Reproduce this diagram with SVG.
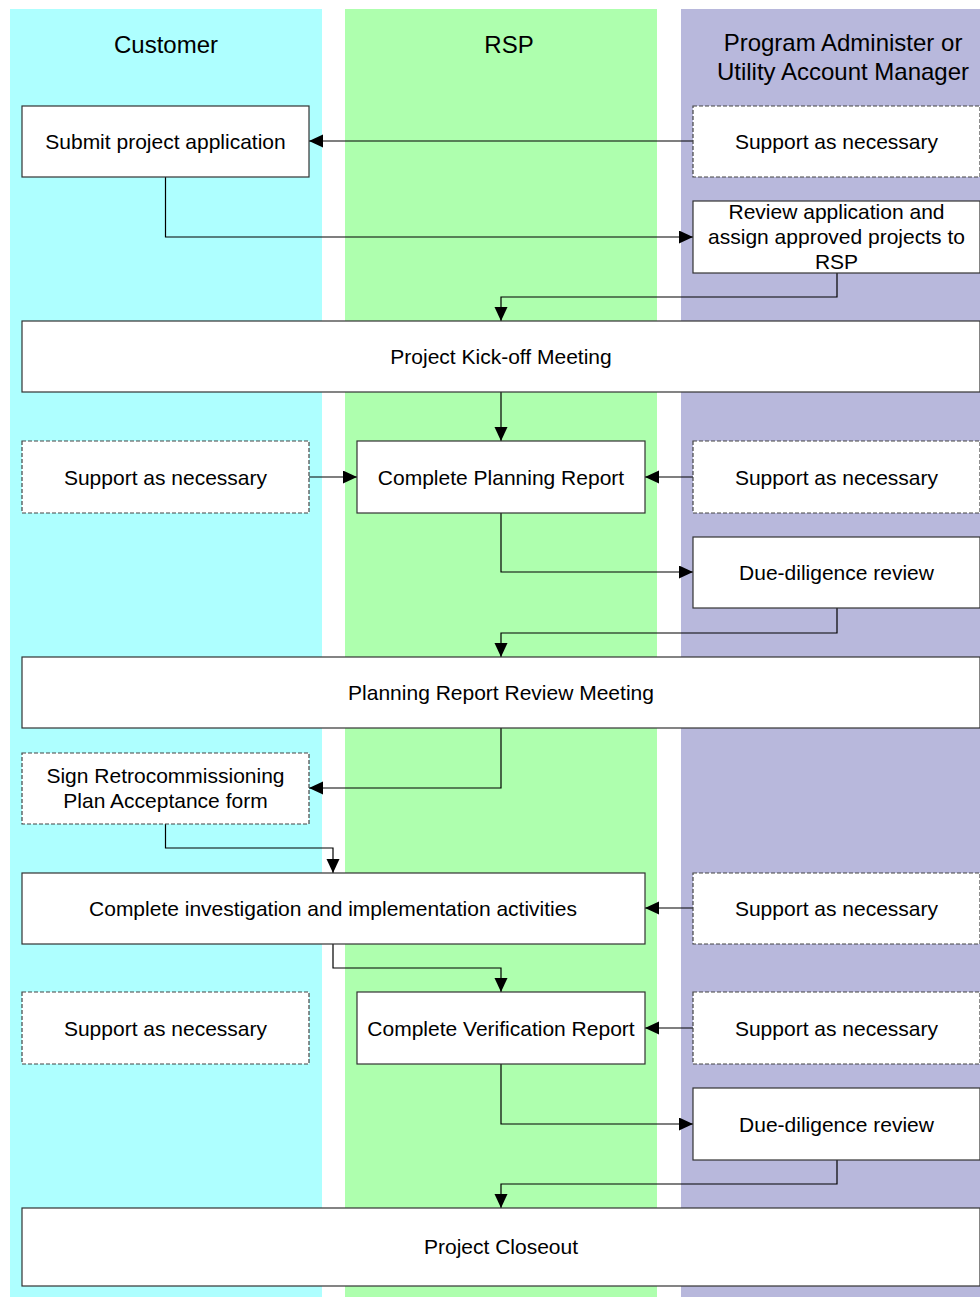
<svg xmlns="http://www.w3.org/2000/svg" width="980" height="1297" viewBox="0 0 980 1297">
<style>
.lane-h{font-family:"Liberation Sans",Arial,sans-serif;font-size:24px;fill:#000;text-anchor:middle}
.t{font-family:"Liberation Sans",Arial,sans-serif;font-size:21px;fill:#000;text-anchor:middle}
.box{fill:#fff;stroke:#333;stroke-width:1.2}
.dbox{fill:#fff;stroke:#444;stroke-width:1.2;stroke-dasharray:4 2}
.c{fill:none;stroke:#000;stroke-width:1.2;marker-end:url(#ah)}
</style>
<defs>
<marker id="ah" markerUnits="userSpaceOnUse" markerWidth="14" markerHeight="14" refX="14" refY="6.5" orient="auto">
<path d="M0,0 L14,6.5 L0,13 z" fill="#000"/>
</marker>
</defs>
<rect width="980" height="1297" fill="#fff"/>
<g id="lanes">
<rect x="10" y="9" width="312" height="1288" fill="#aeffff"/>
<rect x="345" y="9" width="312" height="1288" fill="#aeffae"/>
<rect x="681" y="9" width="299" height="1288" fill="#b8b8dc"/>
<text class="lane-h" x="166" y="53">Customer</text>
<text class="lane-h" x="509" y="53">RSP</text>
<text class="lane-h" x="843" y="51">Program Administer or</text>
<text class="lane-h" x="843" y="80">Utility Account Manager</text>
</g>
<g id="connectors">
<path class="c" d="M693,141 H309"/>
<path class="c" d="M165.5,177 V237 H693"/>
<path class="c" d="M837,273 V297 H501 V321"/>
<path class="c" d="M501,392 V441"/>
<path class="c" d="M309,477 H357"/>
<path class="c" d="M693,477 H645"/>
<path class="c" d="M501,513 V572 H693"/>
<path class="c" d="M837,608 V633 H501 V657"/>
<path class="c" d="M501,728 V788 H309"/>
<path class="c" d="M165.5,824 V848 H333 V873"/>
<path class="c" d="M693,908 H645"/>
<path class="c" d="M333,944 V968 H501 V992"/>
<path class="c" d="M693,1028 H645"/>
<path class="c" d="M501,1064 V1124 H693"/>
<path class="c" d="M837,1160 V1184 H501 V1208"/>
</g>
<g id="submit"><rect class="box" x="22" y="106" width="287" height="71"/><text class="t" x="165.5" y="149">Submit project application</text></g>
<g id="support-admin-1"><rect class="dbox" x="693" y="106" width="287" height="71"/><text class="t" x="836.5" y="149">Support as necessary</text></g>
<g id="review"><rect class="box" x="693" y="201" width="287" height="72"/><text class="t" x="836.5" y="219">Review application and</text><text class="t" x="836.5" y="244">assign approved projects to</text><text class="t" x="836.5" y="269">RSP</text></g>
<g id="kickoff"><rect class="box" x="22" y="321" width="958" height="71"/><text class="t" x="501" y="364">Project Kick-off Meeting</text></g>
<g id="support-cust-1"><rect class="dbox" x="22" y="441" width="287" height="72"/><text class="t" x="165.5" y="485">Support as necessary</text></g>
<g id="planning"><rect class="box" x="357" y="441" width="288" height="72"/><text class="t" x="501" y="485">Complete Planning Report</text></g>
<g id="support-admin-2"><rect class="dbox" x="693" y="441" width="287" height="72"/><text class="t" x="836.5" y="485">Support as necessary</text></g>
<g id="due1"><rect class="box" x="693" y="537" width="287" height="71"/><text class="t" x="836.5" y="580">Due-diligence review</text></g>
<g id="prrm"><rect class="box" x="22" y="657" width="958" height="71"/><text class="t" x="501" y="700">Planning Report Review Meeting</text></g>
<g id="sign"><rect class="dbox" x="22" y="753" width="287" height="71"/><text class="t" x="165.5" y="783">Sign Retrocommissioning</text><text class="t" x="165.5" y="808">Plan Acceptance form</text></g>
<g id="investigation"><rect class="box" x="22" y="873" width="623" height="71"/><text class="t" x="333" y="916">Complete investigation and implementation activities</text></g>
<g id="support-admin-3"><rect class="dbox" x="693" y="873" width="287" height="71"/><text class="t" x="836.5" y="916">Support as necessary</text></g>
<g id="support-cust-2"><rect class="dbox" x="22" y="992" width="287" height="72"/><text class="t" x="165.5" y="1036">Support as necessary</text></g>
<g id="verification"><rect class="box" x="357" y="992" width="288" height="72"/><text class="t" x="501" y="1036">Complete Verification Report</text></g>
<g id="support-admin-4"><rect class="dbox" x="693" y="992" width="287" height="72"/><text class="t" x="836.5" y="1036">Support as necessary</text></g>
<g id="due2"><rect class="box" x="693" y="1088" width="287" height="72"/><text class="t" x="836.5" y="1132">Due-diligence review</text></g>
<g id="closeout"><rect class="box" x="22" y="1208" width="958" height="78"/><text class="t" x="501" y="1254">Project Closeout</text></g>
</svg>
